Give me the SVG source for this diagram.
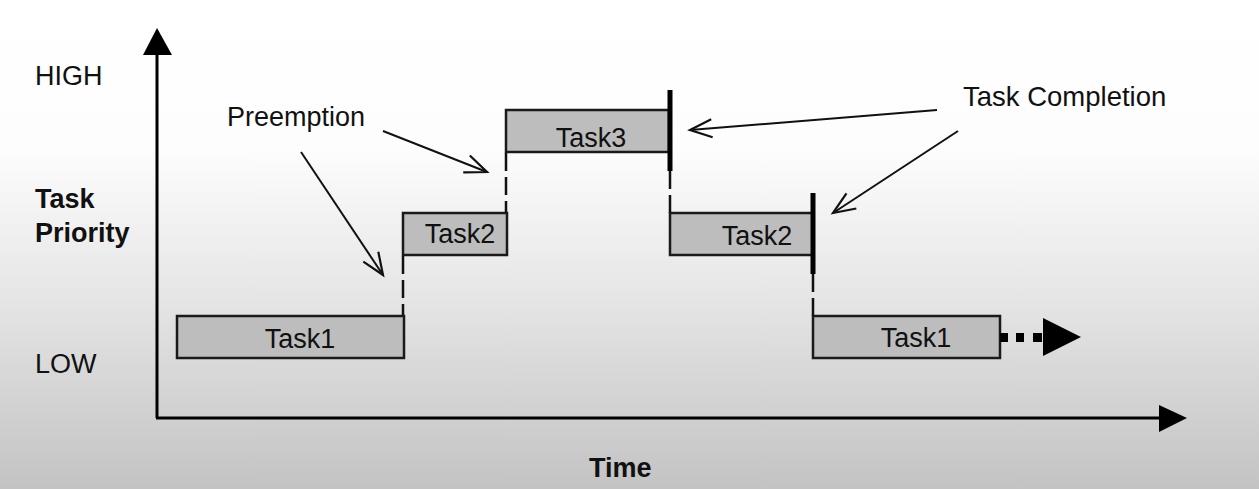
<svg xmlns="http://www.w3.org/2000/svg" width="1259" height="489" viewBox="0 0 1259 489">
<defs>
<linearGradient id="bg" x1="0" y1="0" x2="0" y2="1">
<stop offset="0" stop-color="#ffffff"/>
<stop offset="0.3" stop-color="#fdfdfd"/>
<stop offset="0.6" stop-color="#e6e6e6"/>
<stop offset="1" stop-color="#c3c3c3"/>
</linearGradient>
<marker id="open" viewBox="-24 -12 28 24" markerWidth="28" markerHeight="24" refX="0" refY="0" orient="auto" markerUnits="userSpaceOnUse">
<path d="M -22 -9 L 0 0 L -22 9" fill="none" stroke="#111" stroke-width="2.2"/>
</marker>
</defs>
<style>
.t{font-family:"Liberation Sans",Arial,sans-serif;fill:#111;}
.lbl{font-size:27px;}
.b{font-weight:bold;font-size:27px;}
.box{fill:#bdbdbd;stroke:#1a1a1a;stroke-width:2.5;}
.dash{stroke:#111;stroke-width:2.5;stroke-dasharray:18 6;fill:none;}
.bar{stroke:#000;stroke-width:5;}
.ax{stroke:#000;stroke-width:3;fill:none;}
.ptr{stroke:#111;stroke-width:2;fill:none;marker-end:url(#open);}
</style>
<rect x="0" y="0" width="1259" height="489" fill="url(#bg)"/>

<g id="axes">
<line class="ax" x1="157" y1="50" x2="157" y2="418"/>
<polygon points="157,28 143,55 172,55" fill="#000"/>
<line class="ax" x1="156" y1="418" x2="1162" y2="418"/>
<polygon points="1187,418 1159,405 1159,432" fill="#000"/>
</g>

<g id="axis-labels">
<text class="t lbl" x="35" y="85">HIGH</text>
<text class="t b" x="35" y="208">Task</text>
<text class="t b" x="35" y="242">Priority</text>
<text class="t lbl" x="35" y="373">LOW</text>
<text class="t b" x="589" y="477">Time</text>
</g>

<g id="connectors">
<line class="dash" x1="403" y1="256" x2="403" y2="316"/>
<line class="dash" x1="506" y1="153" x2="506" y2="212"/>
<line class="dash" x1="670" y1="171" x2="670" y2="213"/>
<line class="dash" x1="813" y1="274" x2="813" y2="316"/>
<line class="ptr" x1="301" y1="152" x2="383" y2="275"/>
<line class="ptr" x1="383" y1="131" x2="487" y2="172"/>
<line class="ptr" x1="937" y1="110" x2="690" y2="130"/>
<line class="ptr" x1="958" y1="131" x2="833" y2="213"/>
</g>

<g id="task1a">
<rect class="box" x="177" y="316" width="227" height="42"/>
<text class="t lbl" x="300" y="348" text-anchor="middle">Task1</text>
</g>
<g id="task2a">
<rect class="box" x="403" y="213" width="104" height="42"/>
<text class="t lbl" x="460" y="243" text-anchor="middle">Task2</text>
</g>
<g id="task3">
<rect class="box" x="506" y="110" width="163" height="42"/>
<text class="t lbl" x="591" y="147" text-anchor="middle">Task3</text>
<line class="bar" x1="670" y1="90" x2="670" y2="171"/>
</g>
<g id="task2b">
<rect class="box" x="670" y="213" width="143" height="42"/>
<text class="t lbl" x="757" y="245" text-anchor="middle">Task2</text>
<line class="bar" x1="813" y1="193" x2="813" y2="274"/>
</g>
<g id="task1b">
<rect class="box" x="813" y="316" width="187" height="42"/>
<text class="t lbl" x="916" y="347" text-anchor="middle">Task1</text>
<rect x="1000" y="333" width="8" height="9" fill="#000"/>
<rect x="1016" y="333" width="8" height="9" fill="#000"/>
<rect x="1033" y="333" width="9" height="9" fill="#000"/>
<polygon points="1043,318 1081,337 1043,356" fill="#000"/>
</g>

<g id="preemption">
<text class="t lbl" x="227" y="126">Preemption</text>
</g>
<g id="completion">
<text class="t" x="963" y="106" font-size="27.5">Task Completion</text>
</g>
</svg>
